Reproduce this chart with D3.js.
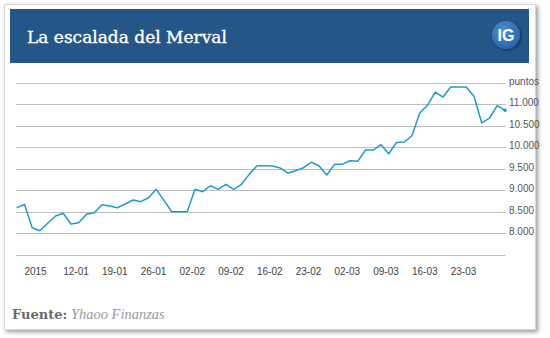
<!DOCTYPE html>
<html><head><meta charset="utf-8">
<script src="https://cdn.jsdelivr.net/npm/d3@7"></script>
<style>html,body{margin:0;padding:0;background:#fff;}svg{display:block;}</style>
</head><body>
<script>
const dates = ["02-01","05-01","06-01","07-01","08-01","09-01","12-01","13-01","14-01","15-01","16-01",
"19-01","20-01","21-01","22-01","23-01","26-01","27-01","28-01","29-01","30-01",
"02-02","03-02","04-02","05-02","06-02","09-02","10-02","11-02","12-02","13-02",
"16-02","17-02","18-02","19-02","20-02","23-02","24-02","25-02","26-02","27-02",
"02-03","03-03","04-03","05-03","06-03","09-03","10-03","11-03","12-03","13-03",
"16-03","17-03","18-03","19-03","20-03","23-03","24-03","25-03","26-03","27-03",
"30-03","31-03","01-04"];
const merval = [8593,8672,8128,8058,8230,8400,8463,8214,8244,8440,8477,
8663,8633,8593,8680,8773,8733,8826,9021,8765,8500,
8500,8500,9021,8966,9105,9021,9138,9021,9138,9370,
9571,9571,9564,9517,9400,9455,9524,9650,9571,9354,
9603,9603,9687,9673,9936,9936,10059,9850,10110,10122,
10269,10797,10976,11286,11169,11402,11402,11402,11186,10565,
10681,10967,10860];
const tickDates = ["05-01","12-01","19-01","26-01","02-02","09-02","16-02","23-02","02-03","09-03","16-03","23-03"];
const tickLabels = ["2015","12-01","19-01","26-01","02-02","09-02","16-02","23-02","02-03","09-03","16-03","23-03"];
const yTicks = [7500,8000,8500,9000,9500,10000,10500,11000,11500];
const yLabels = ["","8.000","8.500","9.000","9.500","10.000","10.500","11.000","puntos"];
const title = "La escalada del Merval";

const W = 550, H = 338;
const svg = d3.select("body").append("svg").attr("width", W).attr("height", H);
const defs = svg.append("defs");
const f = defs.append("filter").attr("id","sh").attr("x","-5%").attr("y","-5%").attr("width","110%").attr("height","110%");
f.append("feDropShadow").attr("dx",2).attr("dy",2).attr("stdDeviation",2).attr("flood-color","#000").attr("flood-opacity",0.4);
const g2 = defs.append("radialGradient").attr("id","ig").attr("cx","40%").attr("cy","35%").attr("r","70%");
g2.append("stop").attr("offset","0%").attr("stop-color","#4f8fd0");
g2.append("stop").attr("offset","100%").attr("stop-color","#2a62a6");
const f2 = defs.append("filter").attr("id","sh2").attr("x","-30%").attr("y","-30%").attr("width","160%").attr("height","160%");
f2.append("feDropShadow").attr("dx",1).attr("dy",1).attr("stdDeviation",1.5).attr("flood-color","#000").attr("flood-opacity",0.5);

// card
svg.append("rect").attr("x",4.5).attr("y",4.5).attr("width",531).attr("height",325)
  .attr("fill","#fff").attr("stroke","#d8d8d8").attr("filter","url(#sh)");
// header
svg.append("rect").attr("x",10).attr("y",9).attr("width",519).attr("height",54).attr("fill","#245688");
svg.append("text").attr("x",27).attr("y",43).attr("fill","#fff").attr("stroke","#fff").attr("stroke-width",0.35)
  .attr("font-family","'DejaVu Serif', serif").attr("font-size",17).text(title);
svg.append("circle").attr("cx",506).attr("cy",35).attr("r",14).attr("fill","url(#ig)").attr("filter","url(#sh2)");
svg.append("text").attr("x",506).attr("y",41).attr("text-anchor","middle").attr("fill","#fff")
  .attr("font-family","'Liberation Sans', Arial, sans-serif").attr("font-weight","bold").attr("font-size",16).text("IG");

const x = d3.scalePoint().domain(dates).range([16.7, 505]);
const y = d3.scaleLinear().domain([8000, 11000]).range([233.2, 104.3]);

// grid
const grid = svg.append("g");
grid.selectAll("line").data(yTicks).join("line")
  .attr("x1",16).attr("x2",505.5)
  .attr("y1",d=>Math.round(y(d))+0.5).attr("y2",d=>Math.round(y(d))+0.5)
  .attr("stroke","#bdbdbd").attr("stroke-width",1);
grid.selectAll("text").data(yTicks).join("text")
  .attr("x",509).attr("y",d=>y(d)+2)
  .attr("fill","#555").attr("font-family","'Liberation Sans', Arial, sans-serif").attr("font-size",10)
  .text((d,i)=>yLabels[i]);

// x labels
svg.append("g").selectAll("text").data(tickDates).join("text")
  .attr("x",d=>x(d)).attr("y",275)
  .attr("fill","#444").attr("font-family","'Liberation Sans', Arial, sans-serif").attr("font-size",10)
  .text((d,i)=>tickLabels[i]);

// line
const line = d3.line().x((d,i)=>x(dates[i])).y(d=>y(d));
svg.append("path").datum(merval).attr("d",line).attr("fill","none")
  .attr("stroke","#1f9ccc").attr("stroke-width",1.5).attr("stroke-linejoin","round");
svg.append("circle").attr("cx",x(dates[dates.length-1])).attr("cy",y(merval[merval.length-1]))
  .attr("r",1.8).attr("fill","#1f9ccc");

// footer
const ft = svg.append("text").attr("x",12).attr("y",319).attr("font-family","'DejaVu Serif', serif").attr("font-size",13);
ft.append("tspan").attr("font-weight","bold").attr("fill","#6a6a6a").text("Fuente:");
ft.append("tspan").attr("font-style","italic").attr("fill","#9a9a9a").attr("font-family","'Liberation Serif', serif").attr("font-size",14.5).text(" Yhaoo Finanzas");
</script>
</body></html>
